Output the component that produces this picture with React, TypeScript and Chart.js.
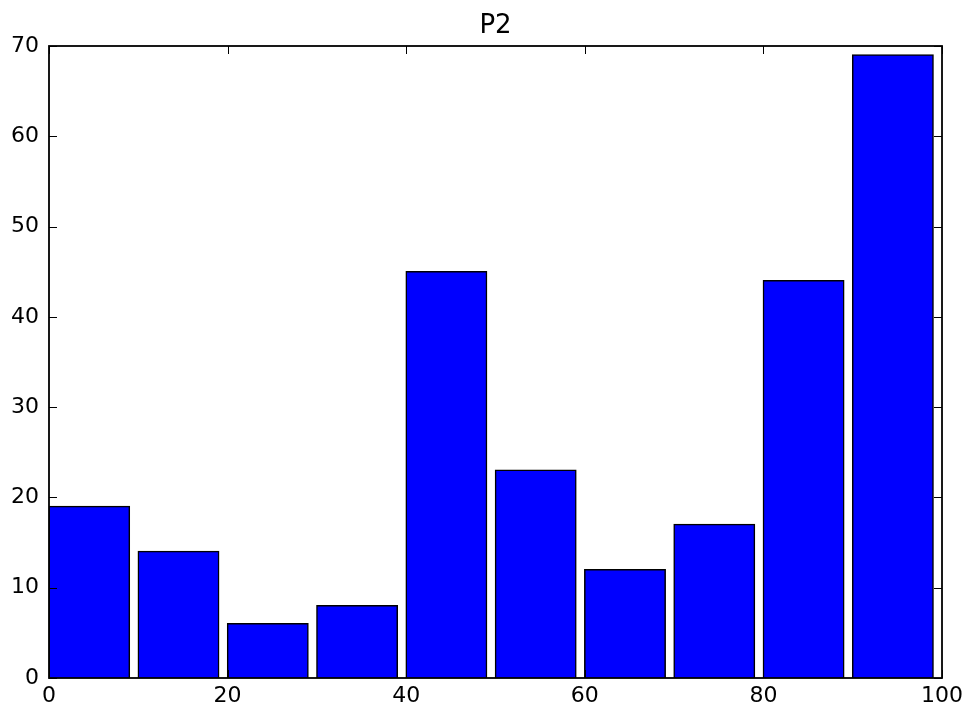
import React, { useEffect, useRef } from "react";
import { Chart, registerables } from "chart.js";

Chart.register(...registerables);

const chartTitle = "P2";
const binEdges = [0, 10, 20, 30, 40, 50, 60, 70, 80, 90];
const binWidth = 10;
const barFraction = 0.9;
const counts = [19, 14, 6, 8, 45, 23, 12, 17, 44, 69];
const xTicks = [0, 20, 40, 60, 80, 100];
const yTicks = [0, 10, 20, 30, 40, 50, 60, 70];

const FONT = "'DejaVu Sans', sans-serif";

const framePlugin = {
  id: "framePlugin",
  afterDatasetsDraw(chart: any) {
    const { ctx, chartArea, scales } = chart;
    const { left, right, top, bottom } = chartArea;
    ctx.save();
    ctx.strokeStyle = "#000";
    ctx.lineWidth = 1;
    const tl = 8;
    ctx.beginPath();
    for (const v of xTicks) {
      const x = Math.round(scales.x.getPixelForValue(v)) + 0.5;
      ctx.moveTo(x, bottom);
      ctx.lineTo(x, bottom - tl);
      ctx.moveTo(x, top);
      ctx.lineTo(x, top + tl);
    }
    for (const v of yTicks) {
      const y = Math.round(scales.y.getPixelForValue(v)) + 0.5;
      ctx.moveTo(left, y);
      ctx.lineTo(left + tl, y);
      ctx.moveTo(right, y);
      ctx.lineTo(right - tl, y);
    }
    ctx.stroke();
    ctx.lineWidth = 1.8;
    ctx.strokeRect(left, top, right - left, bottom - top);
    // title
    ctx.fillStyle = "#000";
    ctx.font = `26px ${FONT}`;
    ctx.textAlign = "center";
    ctx.textBaseline = "alphabetic";
    ctx.fillText(chartTitle, (left + right) / 2, 33);
    ctx.restore();
  },
};

export default function App() {
  const canvasRef = useRef<HTMLCanvasElement | null>(null);

  useEffect(() => {
    document.body.style.margin = "0";
    const canvas = canvasRef.current;
    if (!canvas) return;
    const data = binEdges.map((e, i) => ({
      x: e + (binWidth * barFraction) / 2,
      y: counts[i],
    }));
    const chart = new Chart(canvas, {
      type: "bar",
      data: {
        datasets: [
          {
            data: data as any,
            backgroundColor: "#0000ff",
            borderColor: "#000000",
            borderWidth: 1.5,
            inflateAmount: 0.75,
            barPercentage: barFraction,
            categoryPercentage: 1,
          } as any,
        ],
      },
      options: {
        animation: false,
        responsive: true,
        maintainAspectRatio: false,
        layout: { padding: { top: 46, right: 25, left: 0, bottom: 0 } },
        plugins: {
          legend: { display: false },
          title: { display: false },
          tooltip: { enabled: false },
        },
        scales: {
          x: {
            type: "linear",
            min: 0,
            max: 100,
            offset: false,
            grid: { display: false, offset: false, drawTicks: false },
            border: { display: false },
            afterBuildTicks: (scale: any) => {
              scale.ticks = xTicks.map((v) => ({ value: v }));
            },
            afterFit: (scale: any) => {
              scale.height = 33;
            },
            ticks: {
              color: "#000",
              font: { family: FONT, size: 22 },
              padding: 5,
              maxRotation: 0,
              autoSkip: false,
            },
          },
          y: {
            type: "linear",
            min: 0,
            max: 70,
            grid: { display: false, drawTicks: false },
            border: { display: false },
            afterBuildTicks: (scale: any) => {
              scale.ticks = yTicks.map((v) => ({ value: v }));
            },
            afterFit: (scale: any) => {
              scale.width = 49;
            },
            ticks: {
              color: "#000",
              font: { family: FONT, size: 22 },
              padding: 10,
              autoSkip: false,
            },
          },
        },
      },
      plugins: [framePlugin],
    });
    return () => chart.destroy();
  }, []);

  return (
    <div style={{ position: "absolute", left: 0, top: 0, width: 968, height: 711 }}>
      <canvas ref={canvasRef} />
    </div>
  );
}
